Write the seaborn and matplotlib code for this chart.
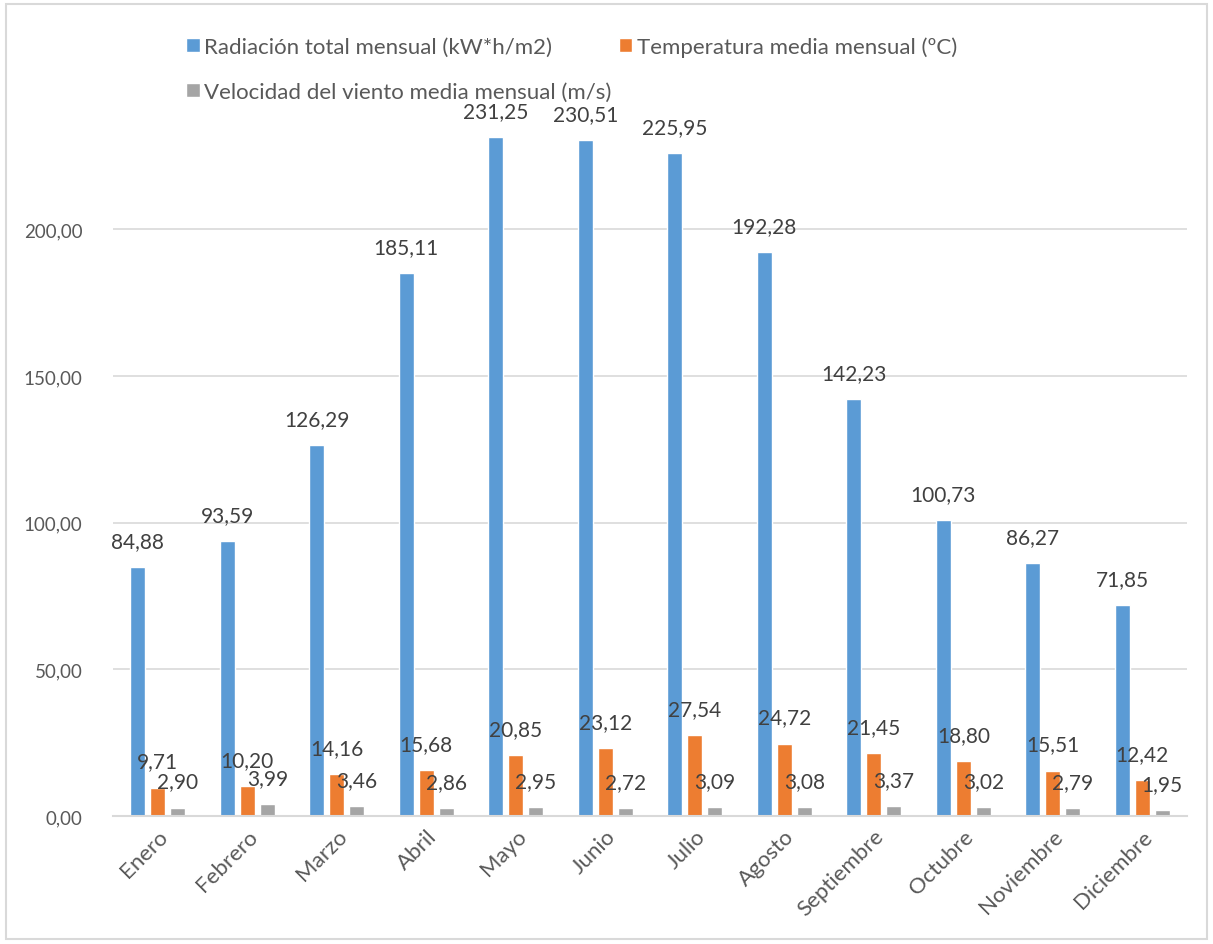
import matplotlib
matplotlib.use("Agg")
import matplotlib.pyplot as plt
import seaborn as sns
import pandas as pd
from matplotlib.patches import Rectangle

meses = ["Enero", "Febrero", "Marzo", "Abril", "Mayo", "Junio", "Julio",
         "Agosto", "Septiembre", "Octubre", "Noviembre", "Diciembre"]
radiacion = [84.88, 93.59, 126.29, 185.11, 231.25, 230.51, 225.95, 192.28,
             142.23, 100.73, 86.27, 71.85]
temperatura = [9.71, 10.20, 14.16, 15.68, 20.85, 23.12, 27.54, 24.72,
               21.45, 18.80, 15.51, 12.42]
viento = [2.90, 3.99, 3.46, 2.86, 2.95, 2.72, 3.09, 3.08, 3.37, 3.02, 2.79, 1.95]

series = ["Radiación total mensual (kW*h/m2)",
          "Temperatura media mensual (ºC)",
          "Velocidad del viento media mensual (m/s)"]
colores = ["#5B9BD5", "#ED7D31", "#A5A5A5"]
y_ticks = [0, 50, 100, 150, 200]

df = pd.DataFrame({
    "Mes": meses * 3,
    "Serie": [series[0]] * 12 + [series[1]] * 12 + [series[2]] * 12,
    "Valor": radiacion + temperatura + viento,
})

sns.set_theme(style="white")
plt.rcParams["font.family"] = ["Lato", "DejaVu Sans"]

fig = plt.figure(figsize=(12.13, 9.45), dpi=100)
ax = fig.add_axes([0.0932, 0.1354, 0.8854, 0.7586])

sns.barplot(data=df, x="Mes", y="Valor", hue="Serie", hue_order=series,
            palette=colores, width=0.67, gap=0.25, ax=ax, saturation=1,
            legend=True, errorbar=None)

def fmt(v):
    return f"{v:.2f}".replace(".", ",")

for cont, vals in zip(ax.containers, [radiacion, temperatura, viento]):
    ax.bar_label(cont, labels=[fmt(v) for v in vals], padding=11.5,
                 fontsize=15, color="#404040")

ax.set_ylim(0, 244.3)
ax.set_yticks(y_ticks)
ax.set_yticklabels([fmt(v) for v in y_ticks])
ax.set_xlim(-0.5, 11.5)
ax.set_xlabel("")
ax.set_ylabel("")
ax.grid(axis="y", color="#D9D9D9", linewidth=1.2)
ax.set_axisbelow(True)
for s in ["top", "right", "left"]:
    ax.spines[s].set_visible(False)
ax.spines["bottom"].set_color("#D9D9D9")
ax.spines["bottom"].set_linewidth(1.5)
ax.tick_params(axis="y", length=0, pad=22, labelsize=13.5, labelcolor="#595959")
ax.tick_params(axis="x", length=0, pad=7, labelsize=16, labelcolor="#595959")
for lab in ax.get_xticklabels():
    lab.set_rotation(45)
    lab.set_ha("right")
    lab.set_rotation_mode("anchor")

handles, labels = ax.get_legend_handles_labels()
ax.get_legend().remove()
order = [0, 2, 1]
fig.legend([handles[i] for i in order], [labels[i] for i in order],
           ncol=2, loc="upper left", bbox_to_anchor=(0.137, 0.982),
           frameon=False, fontsize=16, labelcolor="#595959",
           handlelength=0.6, handleheight=0.6, handletextpad=0.2,
           labelspacing=1.15, columnspacing=0.35)

fig.patches.append(Rectangle((0.005, 0.005), 0.99, 0.99, transform=fig.transFigure,
                             fill=False, edgecolor="#D9D9D9", linewidth=1.5))

fig.savefig("out.png", dpi=100, facecolor="white")
